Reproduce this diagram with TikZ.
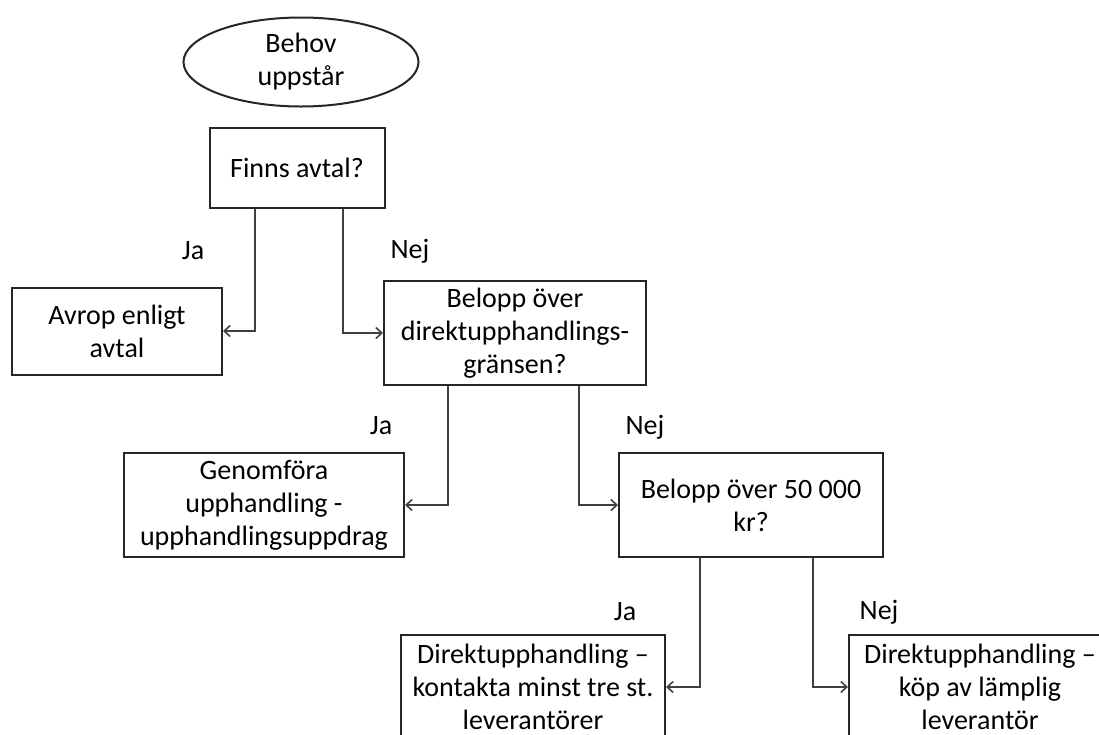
\documentclass[tikz,border=0pt]{standalone}
\usepackage{fontspec}
\setmainfont{Carlito}
\usetikzlibrary{arrows.meta,shapes.geometric}
\tikzset{
  {base box/.style} ={draw=black!85,line width=2pt,align=center,inner sep=2pt,
                 font=\fontsize{28}{33}\selectfont},
  {start/.style} ={base box,ellipse,minimum width=235pt,minimum height=89pt},
  {question/.style} ={base box,rectangle,minimum height=104pt},
  {action/.style} ={base box,rectangle,minimum height=104pt},
  {answer/.style} ={font=\fontsize{28}{33}\selectfont,inner sep=0},
  {flow/.style} ={draw=black!75,line width=2pt,->},
  >={Straight Barb[length=6pt,width=11pt,line width=1.6pt]},
}
\begin{document}
\begin{tikzpicture}[x=1pt,y=-1pt]
\path[use as bounding box,clip] (0,0) rectangle (1099,734);
\node[start] (behov) at (301,62) {Behov\\uppstår};
\node[question,minimum width=175pt,minimum height=80pt] (finns) at (297,168) {Finns avtal?};
\node[action,minimum width=210pt,minimum height=87pt] (avrop) at (117,331) {Avrop enligt\\avtal};
\node[question,minimum width=262pt] (grans) at (515,333) {Belopp över\\direktupphandlings-\\gränsen?};
\node[action,minimum width=280pt] (genom) at (264,505) {Genomföra\\upphandling -\\upphandlingsuppdrag};
\node[question,minimum width=264pt] (femtio) at (751,505) {Belopp över 50 000\\kr?};
\node[action,minimum width=264pt] (direktA) at (533,687) {Direktupphandling –\\kontakta minst tre st.\\leverantörer};
\node[action,minimum width=262pt] (direktB) at (980,687) {Direktupphandling –\\köp av lämplig\\leverantör};
% svar
\node[answer] (ja1) at (193,251) {Ja};
\node[answer] (nej1) at (410,251) {Nej};
\node[answer] (ja2) at (381,426) {Ja};
\node[answer] (nej2) at (645,427) {Nej};
\node[answer] (ja3) at (625,612) {Ja};
\node[answer] (nej3) at (879,612) {Nej};
\path[flow] ([xshift=-42pt]finns.south) |- (avrop.east);
\path[flow] ([xshift=46pt]finns.south) |- (grans.west);
\path[flow] ([xshift=-67pt]grans.south) |- (genom.east);
\path[flow] ([xshift=64pt]grans.south) |- (femtio.west);
\path[flow] ([xshift=-51pt]femtio.south) |- (direktA.east);
\path[flow] ([xshift=62pt]femtio.south) |- (direktB.west);
\end{tikzpicture}
\end{document}
